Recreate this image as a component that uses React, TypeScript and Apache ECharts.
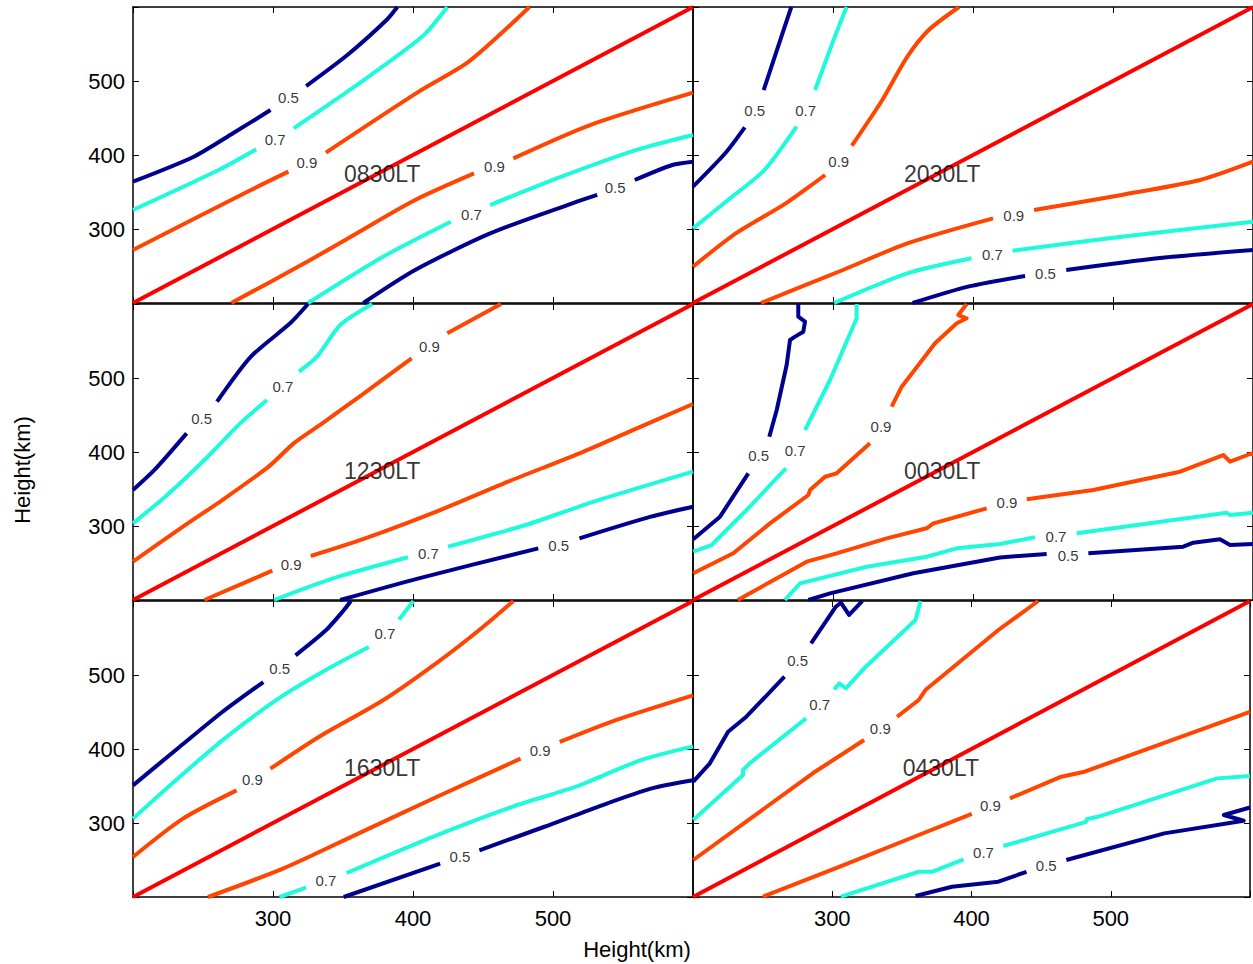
import React, { useEffect, useRef } from 'react';
import * as echarts from 'echarts';

const NAVY = '#00008F';
const CYAN = '#1FFADC';
const ORANGE = '#FF4500';
const RED = '#FF0000';
const FONT = '"Liberation Sans", Arial, Helvetica, sans-serif';

const panelNames = ['0830LT', '2030LT', '1230LT', '0030LT', '1630LT', '0430LT'];
const tickValues = [300, 400, 500];
const diagonal = [[200, 200], [600, 600]];
const titlePos = [378, 374];

// ---- 0830LT ----
const lt0830_n1 = [[200, 364], [243.4, 397.7], [271.4, 429.3], [298.2, 460.8], null, [323.7, 493.2], [353.1, 535.1], [381.1, 582.4], [388.8, 600]];
const lt0830_c1 = [[200, 325.7], [261.2, 379.7], [288, 407.7], null, [314.8, 436], [358.2, 492.3], [406.6, 560], [424.5, 600]];
const lt0830_o1 = [[200, 271.6], [284.2, 352.7], [311, 377.5], null, [337.8, 403.2], [404.1, 485.6], [439.8, 526.1], [483.2, 600]];
const lt0830_o2 = [[270.2, 200], [322.4, 253.6], [355.6, 289.6], [401.5, 339.2], [443.6, 375.2], null, [471.7, 395.5], [526.5, 440.5], [600, 484.2]];
const lt0830_c2 = [[325, 200], [378.6, 262.6], [427, 309.9], null, [455.1, 332.4], [506.1, 370.7], [559.7, 406.8], [600, 427]];
const lt0830_n2 = [[364.5, 200], [401.5, 244.6], [455.1, 294.1], [513.8, 334.7], [531.6, 346], null, [558.4, 366.2], [585.2, 386.5], [600, 391]];
const lt0830_labels = [[311, 477.5, '0.5'], [301.5, 420.3, '0.7'], [324.2, 390, '0.9'], [458.2, 385.1, '0.9'], [441.8, 319.8, '0.7'], [544.4, 355.9, '0.5']];

// ---- 2030LT ----
const lt2030_n1 = [[200, 357.2], [223, 402.3], [237, 437.4], null, [250.5, 487.8], [260, 541.9], [270.2, 600]];
const lt2030_c1 = [[200, 300.9], [228, 343.7], [251, 379.7], [274, 438.3], null, [287.2, 487.8], [299.5, 550.9], [309.7, 600]];
const lt2030_o1 = [[200, 249.1], [230.6, 294.1], [266.3, 334.7], [294.4, 373], null, [313.5, 412.6], [335.2, 474.3], [353.1, 532.9], [368.4, 568.9], [390, 600]];
const lt2030_o2 = [[248.5, 200], [307.1, 244.6], [353.1, 280.6], [414.3, 314.4], null, [443.6, 325.7], [506.1, 346], [562.2, 366.2], [600, 391]];
const lt2030_c2 = [[300.8, 200], [353.1, 240.1], [399, 260.4], null, [428.3, 270.7], [506.1, 289.6], [600, 309.9]];
const lt2030_n2 = [[356.9, 200], [396.4, 222.1], [437.2, 236.5], null, [466.6, 244.6], [531.6, 260.4], [600, 271.6]];
const lt2030_labels = [[244.1, 460.8, '0.5'], [280.4, 460.8, '0.7'], [304.1, 391, '0.9'], [429.1, 318.9, '0.9'], [413.8, 264.9, '0.7'], [451.8, 240.1, '0.5']];

// ---- 1230LT ----
const lt1230_n1 = [[200, 348.6], [215.3, 375.7], [238.3, 425.2], null, [260, 468], [284.2, 528.8], [312.2, 573.9], [325, 600]];
const lt1230_c1 = [[200, 303.6], [223, 339.6], [251, 389.2], [276.5, 438.7], [295.7, 470.3], null, [318.6, 508.6], [331.4, 528.8], [348, 571.6], [370.9, 600]];
const lt1230_o1 = [[200, 251.8], [235.7, 299.1], [263.8, 335.1], [296.9, 380.2], [314.8, 411.7], [335.2, 438.7], [363.3, 477], [399, 526.6], null, [424.5, 560.4], [462.8, 600]];
const lt1230_o2 = [[251, 200], [299.5, 239.6], null, [327, 259.5], [365.8, 283.3], [419.4, 321.6], [467.9, 359.9], [518.9, 398.2], [554.6, 427.5], [600, 464.9]];
const lt1230_c2 = [[300.8, 200], [342.9, 229.3], [396.4, 257.7], null, [425, 272.1], [480.6, 301.4], [529.1, 332.9], [600, 373.4]];
const lt1230_n2 = [[348, 200], [404.1, 229.3], [489.5, 269.8], null, [518.9, 283.3], [569.9, 312.6], [600, 326.1]];
const lt1230_labels = [[249, 445.5, '0.5'], [307.1, 488.3, '0.7'], [411.7, 542.3, '0.9'], [313, 248.2, '0.9'], [411, 263.1, '0.7'], [504.1, 274.3, '0.5']];

// ---- 0030LT ----
const lt0030_n1 = [[200.2, 282], [219.3, 312.6], [239.5, 371.2], null, [254.5, 420.7], [259.8, 456.8], [266.9, 517.6], [269.3, 551.4], [272.9, 555.9], [278.8, 562.6], [280, 576.1], [275.2, 582.9], [275.2, 600]];
const lt0030_c1 = [[200.2, 265.3], [213.3, 274.3], [238.3, 321.6], [266.4, 378], null, [280, 429.7], [297.9, 497.3], [316.9, 580.7], [316.9, 600]];
const lt0030_o1 = [[200.2, 236.1], [228.8, 263.1], [255, 303.6], [282.4, 341.9], [283.6, 348.6], [294.3, 366.6], [302.6, 371.2], [326.4, 411.7], null, [341.9, 461.2], [349.1, 488.3], [372.9, 546.9], [388.4, 573.9], [395.5, 580.7], [389.5, 585.1], [395.5, 600]];
const lt0030_o2 = [[232, 200], [281.2, 251.8], [302.6, 263.1], [338.4, 283.3], [366.9, 296.9], [371.7, 303.6], [409.8, 323.9], null, [438.4, 336.1], [485.9, 348.6], [547.9, 373.4], [578.8, 395.9], [583.6, 386.9], [597.9, 397.3], [600, 398]];
const lt0030_c2 = [[265.7, 200], [276.4, 222.5], [324.1, 245], [366.9, 258.5], [388.4, 269.8], [419.3, 275.7], [444.3, 284.7], null, [474.1, 290.1], [581.2, 318], [583.6, 314.9], [600, 318]];
const lt0030_n2 = [[282.4, 200], [297.9, 209], [357.4, 236.1], [419.3, 257.5], [452.6, 262.2], null, [482.4, 263.1], [550.2, 272], [557.4, 277.5], [576.4, 282], [583.6, 274.3], [600, 275.7]];
const lt0030_labels = [[246.9, 395, '0.5'], [272.9, 401.4, '0.7'], [334.3, 434.5, '0.9'], [424.3, 331.1, '0.9'], [459.3, 286, '0.7'], [468, 260.8, '0.5']];

// ---- 1630LT ----
const lt1630_n1 = [[200, 350.9], [233.2, 402.7], [263.8, 450], [293.1, 490.5], null, [316.1, 526.6], [337.8, 560.4], [350.5, 587.4], [355.6, 600]];
const lt1630_c1 = [[200, 305.9], [230.6, 357.7], [263.8, 411.7], [302, 465.8], [335.2, 504.1], [368.4, 537.8], null, [390, 574.8], [400.3, 600]];
const lt1630_o1 = [[200, 254.1], [235.7, 305.9], [274, 344.1], null, [298.2, 373.4], [332.7, 416.2], [378.6, 465.8], [419.4, 519.8], [450, 564.9], [471.7, 600]];
const lt1630_o2 = [[253.6, 200], [307.1, 238.3], [358.2, 283.3], [416.8, 335.1], [476.8, 386.9], null, [504.8, 409.5], [544.4, 438.7], [600, 472.5]];
const lt1630_c2 = [[304.6, 200], [323.7, 212.6], null, [352.6, 232.4], [416.8, 283.3], [470.4, 321.6], [518.9, 350.9], [562.2, 384.7], [600, 403.6]];
const lt1630_n2 = [[350.5, 200], [419.4, 245], null, [447.4, 263.1], [493.4, 294.6], [531.6, 321.6], [569.9, 346.4], [600, 357.7]];
const lt1630_labels = [[304.8, 509, '0.5'], [379.9, 556.3, '0.7'], [285.3, 358.4, '0.9'], [490.8, 398.4, '0.9'], [337.8, 222.7, '0.7'], [433.5, 254.1, '0.5']];

// ---- 0430LT ----
const lt0430_n1 = [[200.2, 355.8], [212.1, 380.6], [225.2, 423.4], [238.3, 443.6], [265.7, 497.7], null, [284.8, 542.8], [302.6, 592.3], [306.2, 597.7], [312.1, 581.1], [320.5, 597.7], [321.5, 600]];
const lt0430_c1 = [[200.2, 304.1], [235.9, 364.9], [235.9, 371.6], [240.7, 380.6], [281.2, 441.4], null, [301.4, 480.5], [305, 488.6], [309.8, 481.9], [324.1, 511.2], [359.8, 574.3], [363.4, 600]];
const lt0430_o1 = [[200.2, 250], [286, 367.2], [322.9, 412.2], null, [346.6, 443.6], [362.1, 466.2], [366.9, 479.7], [419.3, 560.8], [447.9, 600]];
const lt0430_o2 = [[250.2, 200.4], [305, 240.8], [362.1, 283.8], [400.2, 312.2], null, [427.6, 333.3], [464.5, 362.6], [481.2, 369.3], [600, 450.3]];
const lt0430_c2 = [[306.2, 200.4], [362.1, 234.1], [371.6, 234.1], [394.3, 250.8], null, [422.9, 268.9], [482.4, 301.6], [483, 305.5], [490.7, 308.4], [576.4, 360.3], [600, 363.5]];
const lt0430_n2 = [[359.8, 201.4], [386, 213.9], [419.3, 220.7], [439.5, 234.1], null, [468.1, 250], [538.4, 286], [595.5, 303], [581.2, 310.8], [600, 321]];
const lt0430_labels = [[275.1, 519, '0.5'], [291, 460.5, '0.7'], [334.5, 428.2, '0.9'], [413.6, 323, '0.9'], [408.6, 259.5, '0.7'], [453.7, 241.9, '0.5']];

const panelLines = [
  [lt0830_n1, lt0830_c1, lt0830_o1, lt0830_o2, lt0830_c2, lt0830_n2],
  [lt2030_n1, lt2030_c1, lt2030_o1, lt2030_o2, lt2030_c2, lt2030_n2],
  [lt1230_n1, lt1230_c1, lt1230_o1, lt1230_o2, lt1230_c2, lt1230_n2],
  [lt0030_n1, lt0030_c1, lt0030_o1, lt0030_o2, lt0030_c2, lt0030_n2],
  [lt1630_n1, lt1630_c1, lt1630_o1, lt1630_o2, lt1630_c2, lt1630_n2],
  [lt0430_n1, lt0430_c1, lt0430_o1, lt0430_o2, lt0430_c2, lt0430_n2],
];
const lineColors = [NAVY, CYAN, ORANGE, ORANGE, CYAN, NAVY];
const panelLabels = [lt0830_labels, lt2030_labels, lt1230_labels, lt0030_labels, lt1630_labels, lt0430_labels];
const panelSmooth = [0.25, 0.25, 0.25, 0, 0.25, 0];

function splitSegments(arr: any[]): number[][][] {
  const segs: number[][][] = [];
  let cur: number[][] = [];
  for (const p of arr) {
    if (p === null) {
      if (cur.length) segs.push(cur);
      cur = [];
    } else cur.push(p);
  }
  if (cur.length) segs.push(cur);
  return segs;
}

function buildOption() {
  const grid: any[] = [];
  const xAxis: any[] = [];
  const yAxis: any[] = [];
  const series: any[] = [];
  const n = panelNames.length;
  const tickFmt = (v: number) => (tickValues.indexOf(v) >= 0 ? String(v) : '');
  const axisLine = { show: true, onZero: false, lineStyle: { color: '#000', width: 1.5 } };
  const axisTick = { show: true, inside: true, length: 6, lineStyle: { color: '#000', width: 1 } };

  for (let i = 0; i < n; i++) {
    const col = i % 2;
    const row = Math.floor(i / 2);
    grid.push({ left: 133 + col * 560, top: 7 + row * 297, width: 560, height: 296, containLabel: false });
    xAxis.push({
      type: 'value', gridIndex: i, min: 200, max: 600, interval: 100, position: 'bottom',
      axisLine, axisTick, splitLine: { show: false },
      axisLabel: { show: row === 2, formatter: tickFmt, fontSize: 22, color: '#000', fontFamily: FONT, margin: 10 },
    });
    yAxis.push({
      type: 'value', gridIndex: i, min: 200, max: 600, interval: 100, position: 'left',
      axisLine, axisTick, splitLine: { show: false },
      axisLabel: { show: col === 0, formatter: tickFmt, fontSize: 22, color: '#000', fontFamily: FONT, margin: 8 },
    });
  }
  for (let i = 0; i < n; i++) {
    xAxis.push({
      type: 'value', gridIndex: i, min: 200, max: 600, interval: 100, position: 'top',
      axisLine, axisTick, splitLine: { show: false }, axisLabel: { show: false },
    });
    yAxis.push({
      type: 'value', gridIndex: i, min: 200, max: 600, interval: 100, position: 'right',
      axisLine, axisTick, splitLine: { show: false }, axisLabel: { show: false },
    });
  }

  for (let i = 0; i < n; i++) {
    panelLines[i].forEach((line, k) => {
      splitSegments(line).forEach((seg) => {
        series.push({
          type: 'line', xAxisIndex: i, yAxisIndex: i, data: seg, symbol: 'none', showSymbol: false,
          smooth: panelSmooth[i], clip: false, silent: true, z: 3,
          lineStyle: { color: lineColors[k], width: 4, cap: 'butt', join: 'round' },
        });
      });
    });
    series.push({
      type: 'line', xAxisIndex: i, yAxisIndex: i, data: diagonal, symbol: 'none', showSymbol: false,
      clip: false, silent: true, z: 3, lineStyle: { color: RED, width: 4 },
    });
    series.push({
      type: 'scatter', xAxisIndex: i, yAxisIndex: i, silent: true, z: 5,
      data: panelLabels[i], symbolSize: 1, itemStyle: { color: 'rgba(0,0,0,0)' },
      label: { show: true, position: 'inside', formatter: (p: any) => p.data[2], fontSize: 15, color: '#000', textBorderWidth: 0, fontFamily: FONT },
    });
    series.push({
      type: 'scatter', xAxisIndex: i, yAxisIndex: i, silent: true, z: 6,
      data: [[titlePos[0], titlePos[1], panelNames[i]]], symbolSize: 1, itemStyle: { color: 'rgba(0,0,0,0)' },
      label: { show: true, position: 'inside', formatter: (p: any) => p.data[2], fontSize: 23, color: '#000', textBorderWidth: 0, fontFamily: FONT },
    });
  }

  return {
    animation: false,
    backgroundColor: '#fff',
    grid, xAxis, yAxis, series,
    graphic: [
      { type: 'text', x: 637, y: 949, style: { text: 'Height(km)', font: `22px ${FONT}`, fill: '#000', textAlign: 'center', textVerticalAlign: 'middle' } },
      { type: 'text', x: 22, y: 470, rotation: Math.PI / 2, style: { text: 'Height(km)', font: `22px ${FONT}`, fill: '#000', textAlign: 'center', textVerticalAlign: 'middle' } },
    ],
  };
}

export default function App() {
  const ref = useRef<HTMLDivElement>(null);
  useEffect(() => {
    if (!ref.current) return;
    const chart = echarts.init(ref.current, undefined, { renderer: 'svg' });
    chart.setOption(buildOption() as any);
    return () => chart.dispose();
  }, []);
  return <div ref={ref} style={{ position: 'absolute', left: 0, top: 0, width: 1253, height: 964 }} />;
}
